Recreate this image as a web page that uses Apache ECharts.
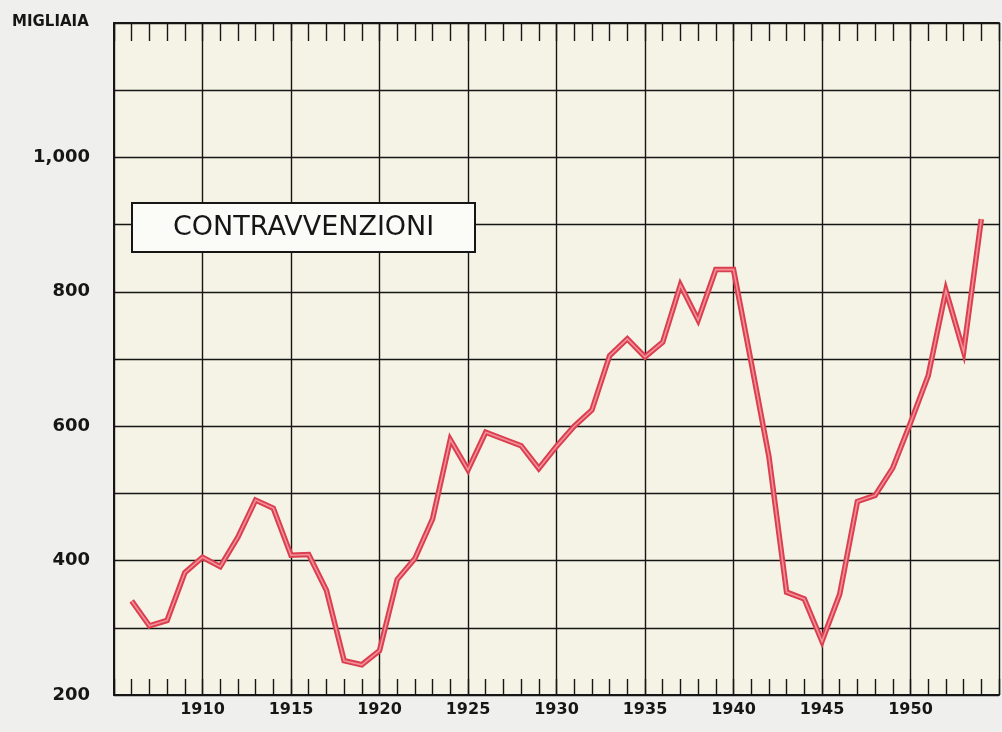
<!DOCTYPE html>
<html>
<head>
<meta charset="utf-8">
<script src="https://cdn.jsdelivr.net/npm/echarts@6/dist/echarts.min.js"></script>
<style>
html,body{margin:0;padding:0;background:#efefed;}
#chart{width:1002px;height:732px;}
</style>
</head>
<body>
<div id="chart"></div>
<script>
// Years (x) and values in thousands (y)
const years = [1906,1907,1908,1909,1910,1911,1912,1913,1914,1915,1916,1917,1918,1919,1920,
  1921,1922,1923,1924,1925,1926,1927,1928,1929,1930,1931,1932,1933,1934,1935,1936,1937,1938,
  1939,1940,1941,1942,1943,1944,1945,1946,1947,1948,1949,1950,1951,1952,1953,1954];
const contravvenzioni = [340,303,311,382,405,391,435,490,478,408,409,356,251,245,266,
  372,403,462,580,535,591,581,571,537,570,600,624,705,730,703,725,810,758,
  833,833,695,555,353,343,280,350,488,497,538,605,675,802,711,908];

const xTickLabels = [1910,1915,1920,1925,1930,1935,1940,1945,1950];
const yTickLabels = {200:'200', 400:'400', 600:'600', 800:'800', 1000:'1,000'};
const seriesName = 'CONTRAVVENZIONI';
const unitLabel = 'MIGLIAIA';

const ink = '#161616';
const points = years.map((y, i) => [y, contravvenzioni[i]]);

const chart = echarts.init(document.getElementById('chart'), null, {renderer:'canvas'});
chart.setOption({
  animation:false,
  backgroundColor:'#efefed',
  grid:{left:114, right:2, top:23, bottom:37, show:true, backgroundColor:'#f5f3e5', borderWidth:0},
  title:{
    text: seriesName,
    left:132, top:203,
    padding:[11,41],
    borderWidth:2, borderColor:ink,
    backgroundColor:'#fbfbf8',
    textStyle:{fontFamily:'DejaVu Sans', fontSize:27, fontWeight:'normal', color:ink}
  },
  graphic:[{
    type:'text', left:12, top:15,
    style:{text:unitLabel, font:'bold 15px "DejaVu Sans"', fill:ink}
  }],
  xAxis:[{
    type:'value', min:1905, max:1955, interval:5, position:'bottom',
    axisLine:{show:true, lineStyle:{color:ink, width:2}},
    axisTick:{show:true, inside:true, length:16, lineStyle:{color:ink, width:1.4}},
    minorTick:{show:true, splitNumber:5, length:16, lineStyle:{color:ink, width:1.4}},
    axisLabel:{
      margin:7, color:ink, fontFamily:'DejaVu Sans', fontWeight:'bold', fontSize:16,
      formatter:v => xTickLabels.includes(v) ? String(v) : ''
    },
    splitLine:{show:true, lineStyle:{color:ink, width:1.4}},
    minorSplitLine:{show:false}
  },{
    type:'value', min:1905, max:1955, interval:5, position:'top',
    axisLine:{show:true, lineStyle:{color:ink, width:2}},
    axisTick:{show:true, inside:true, length:18, lineStyle:{color:ink, width:1.4}},
    minorTick:{show:true, splitNumber:5, length:18, lineStyle:{color:ink, width:1.4}},
    axisLabel:{show:false},
    splitLine:{show:false}
  }],
  yAxis:{
    type:'value', min:200, max:1200, interval:100,
    axisLine:{show:true, lineStyle:{color:ink, width:2}},
    axisTick:{show:false},
    axisLabel:{
      margin:24, color:ink, fontFamily:'DejaVu Sans', fontWeight:'bold', fontSize:18,
      formatter:v => yTickLabels[v] || ''
    },
    splitLine:{show:true, lineStyle:{color:ink, width:1.4}}
  },
  series:[{
    name:seriesName, type:'line', data:points, symbol:'none', z:3,
    lineStyle:{color:'#db3f4f', width:5.5, join:'miter'}
  },{
    name:seriesName + ' ', type:'line', data:points, symbol:'none', z:4,
    lineStyle:{color:'#f2909a', width:1.6, join:'miter'}
  }]
});
</script>
</body>
</html>
